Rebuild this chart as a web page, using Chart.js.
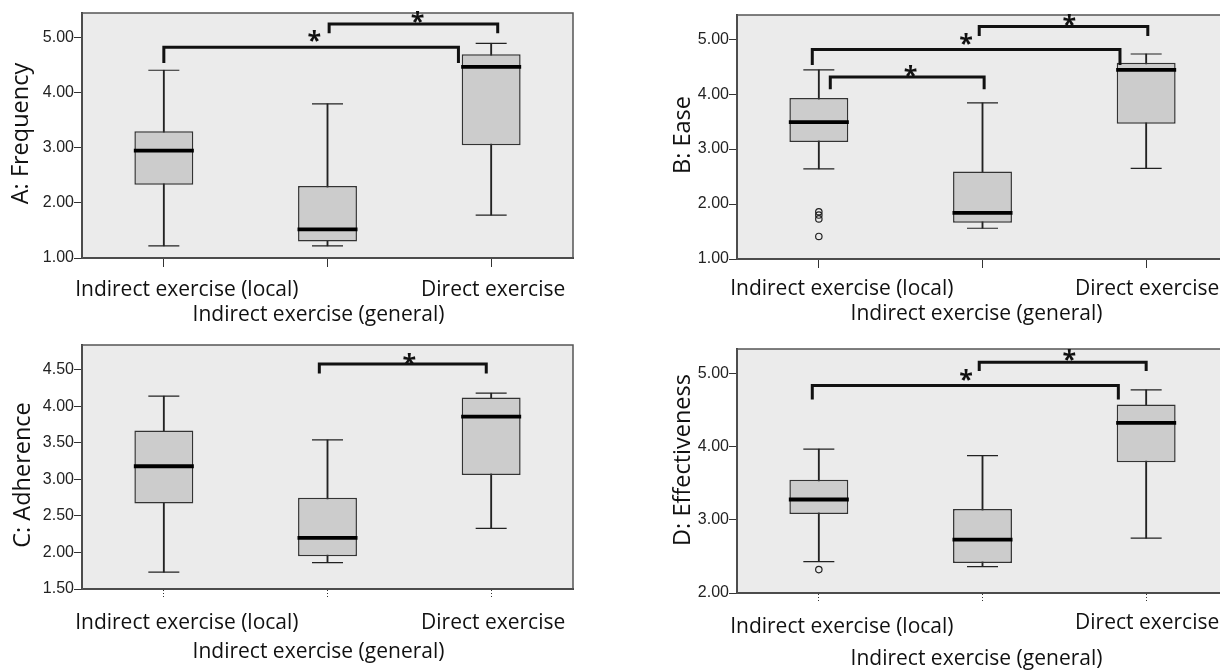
<!DOCTYPE html>
<html>
<head>
<meta charset="utf-8">
<script src="https://cdn.jsdelivr.net/npm/chart.js@4.4.0/dist/chart.umd.min.js"></script>
<style>
  html, body { margin: 0; padding: 0; background: #fff; width: 1220px; height: 670px; overflow: hidden; }
  .panel { position: absolute; }
</style>
</head>
<body>
<div class="panel" style="left:0;top:0"><canvas id="cA" width="610" height="330"></canvas></div>
<div class="panel" style="left:610px;top:0"><canvas id="cB" width="630" height="330"></canvas></div>
<div class="panel" style="left:0;top:330px"><canvas id="cC" width="610" height="340"></canvas></div>
<div class="panel" style="left:610px;top:330px"><canvas id="cD" width="630" height="340"></canvas></div>
<script>
// Categories shared by all four panels
const categories = ['Indirect exercise (local)', 'Indirect exercise (general)', 'Direct exercise'];

// A: Frequency
const freqMin = [1.22, 1.22, 1.78];
const freqQ1 = [2.33, 1.30, 3.05];
const freqMedian = [2.95, 1.52, 4.47];
const freqQ3 = [3.30, 2.31, 4.70];
const freqMax = [4.41, 3.80, 4.90];
const freqOutCat = [];
const freqOutVal = [];
const freqTicks = [1, 2, 3, 4, 5];
// significance brackets (category units / value units)
const freqBrFrom = [0, 1.01];
const freqBrTo = [1.80, 2.04];
const freqBrAt = [4.83, 5.25];
const freqBrEnd = [4.54, 5.08];
const freqStar = [0.92, 1.55];

// B: Ease
const easeMin = [2.64, 1.56, 2.65];
const easeQ1 = [3.13, 1.66, 3.46];
const easeMedian = [3.49, 1.84, 4.44];
const easeQ3 = [3.93, 2.59, 4.57];
const easeMax = [4.44, 3.84, 4.73];
const easeOutCat = [0, 0, 0, 0];
const easeOutVal = [1.86, 1.80, 1.73, 1.41];
const easeTicks = [1, 2, 3, 4, 5];
const easeBrFrom = [-0.04, 0.98, 0.07];
const easeBrTo = [1.84, 2.01, 1.01];
const easeBrAt = [4.81, 5.23, 4.31];
const easeBrEnd = [4.53, 5.06, 4.09];
const easeStar = [0.90, 1.53, 0.56];

// C: Adherence
const adhMin = [1.73, 1.86, 2.33];
const adhQ1 = [2.67, 1.95, 3.06];
const adhMedian = [3.18, 2.20, 3.86];
const adhQ3 = [3.67, 2.75, 4.12];
const adhMax = [4.14, 3.54, 4.18];
const adhOutCat = [];
const adhOutVal = [];
const adhTicks = [1.5, 2, 2.5, 3, 3.5, 4, 4.5];
const adhBrFrom = [0.95];
const adhBrTo = [1.97];
const adhBrAt = [4.58];
const adhBrEnd = [4.45];
const adhStar = [1.50];

// D: Effectiveness
const effMin = [2.43, 2.36, 2.75];
const effQ1 = [3.08, 2.41, 3.79];
const effMedian = [3.28, 2.73, 4.33];
const effQ3 = [3.55, 3.15, 4.58];
const effMax = [3.97, 3.88, 4.78];
const effOutCat = [0];
const effOutVal = [2.32];
const effTicks = [2, 3, 4, 5];
const effBrFrom = [-0.04, 0.98];
const effBrTo = [1.83, 2.00];
const effBrAt = [4.84, 5.16];
const effBrEnd = [4.65, 5.04];
const effStar = [0.90, 1.53];

// Layout / style per panel
const panels = [
  {
    id: 'cA', title: 'A: Frequency', yMin: 1, yMax: 5.45, ticks: freqTicks,
    min: freqMin, q1: freqQ1, median: freqMedian, q3: freqQ3, max: freqMax,
    outCat: freqOutCat, outVal: freqOutVal,
    brFrom: freqBrFrom, brTo: freqBrTo, brAt: freqBrAt, brEnd: freqBrEnd, star: freqStar,
    starLift: [11, 7],
    padTop: 13, padRight: 37, yWidth: 82, xHeight: 72,
    titleX: 21, titleDy: -2, tickDash: [],
    labelPos: [[23, 32], [-9, 57], [2, 32]]
  },
  {
    id: 'cB', title: 'B: Ease', yMin: 1, yMax: 5.44, ticks: easeTicks,
    min: easeMin, q1: easeQ1, median: easeMedian, q3: easeQ3, max: easeMax,
    outCat: easeOutCat, outVal: easeOutVal,
    brFrom: easeBrFrom, brTo: easeBrTo, brAt: easeBrAt, brEnd: easeBrEnd, star: easeStar,
    starLift: [11, 7, 6],
    padTop: 15, padRight: 12, yWidth: 127, xHeight: 71,
    titleX: 73, titleDy: -2, tickDash: [],
    labelPos: [[23, 30], [-6, 55], [1, 30]]
  },
  {
    id: 'cC', title: 'C: Adherence', yMin: 1.5, yMax: 4.84, ticks: adhTicks,
    min: adhMin, q1: adhQ1, median: adhMedian, q3: adhQ3, max: adhMax,
    outCat: adhOutCat, outVal: adhOutVal,
    brFrom: adhBrFrom, brTo: adhBrTo, brAt: adhBrAt, brEnd: adhBrEnd, star: adhStar,
    starLift: [5],
    padTop: 15, padRight: 37, yWidth: 82, xHeight: 81,
    titleX: 23, titleDy: 8, tickDash: [1, 2],
    labelPos: [[23, 34], [-9, 63], [2, 34]]
  },
  {
    id: 'cD', title: 'D: Effectiveness', yMin: 2, yMax: 5.34, ticks: effTicks,
    min: effMin, q1: effQ1, median: effMedian, q3: effQ3, max: effMax,
    outCat: effOutCat, outVal: effOutVal,
    brFrom: effBrFrom, brTo: effBrTo, brAt: effBrAt, brEnd: effBrEnd, star: effStar,
    starLift: [11, 7],
    padTop: 19, padRight: 12, yWidth: 127, xHeight: 77,
    titleX: 73, titleDy: -11, tickDash: [1, 2],
    labelPos: [[23, 34], [-6, 66], [1, 30]]
  }
];

const TEXT_FONT = '"Open Sans", "Noto Sans", sans-serif';
const TICK_FONT = '"Liberation Sans Narrow", "Arial Narrow", "Liberation Sans", sans-serif';

/**
 * Plugin drawing plot background, frame, brackets, category labels and the axis title
 */
function makeDecorPlugin(p) {
  return {
    id: 'decor_' + p.id,
    beforeDraw(chart) {
      const { ctx, chartArea: a } = chart;
      ctx.save();
      ctx.fillStyle = '#ebebeb';
      ctx.fillRect(a.left, a.top, a.right - a.left, a.bottom - a.top);
      ctx.restore();
    },
    afterDraw(chart) {
      const { ctx, chartArea: a } = chart;
      const xs = chart.scales.x;
      const ys = chart.scales.y;

      // frame
      ctx.save();
      ctx.strokeStyle = '#555';
      ctx.lineWidth = 1.5;
      ctx.strokeRect(a.left, a.top, a.right - a.left, a.bottom - a.top);

      // significance brackets
      ctx.strokeStyle = '#111';
      ctx.lineWidth = 3;
      ctx.lineJoin = 'miter';
      ctx.fillStyle = '#111';
      ctx.font = 'bold 25px ' + TEXT_FONT;
      ctx.textAlign = 'center';
      ctx.textBaseline = 'middle';
      p.brFrom.forEach((from, i) => {
        const x1 = xs.getPixelForValue(from);
        const x2 = xs.getPixelForValue(p.brTo[i]);
        const yLine = ys.getPixelForValue(p.brAt[i]);
        const yEnd = ys.getPixelForValue(p.brEnd[i]);
        ctx.beginPath();
        ctx.moveTo(x1, yEnd);
        ctx.lineTo(x1, yLine);
        ctx.lineTo(x2, yLine);
        ctx.lineTo(x2, yEnd);
        ctx.stroke();
        ctx.fillText('*', xs.getPixelForValue(p.star[i]), yLine - p.starLift[i] + 6);
      });

      // category labels (staggered as in the original)
      ctx.font = '21px ' + TEXT_FONT;
      ctx.fillStyle = '#111';
      categories.forEach((label, i) => {
        const [dx, dy] = p.labelPos[i];
        ctx.fillText(label, xs.getPixelForValue(i) + dx, a.bottom + dy);
      });

      // y axis title
      ctx.font = '23.5px ' + TEXT_FONT;
      ctx.translate(p.titleX, (a.top + a.bottom) / 2 + p.titleDy);
      ctx.rotate(-Math.PI / 2);
      ctx.fillText(p.title, 0, 0);
      ctx.restore();
    }
  };
}

function buildChart(p) {
  const canvas = document.getElementById(p.id);
  const pts = (vals) => vals.map((v, i) => ({ x: categories[i], y: v }));

  new Chart(canvas, {
    type: 'bar',
    data: {
      labels: categories,
      datasets: [
        {
          // median line
          type: 'line',
          data: pts(p.median),
          showLine: false,
          pointStyle: 'line',
          pointRadius: 30,
          pointBorderWidth: 3.8,
          pointBorderColor: '#000',
          order: 0
        },
        {
          // outliers
          type: 'line',
          data: p.outVal.map((v, i) => ({ x: categories[p.outCat[i]], y: v })),
          showLine: false,
          pointStyle: 'circle',
          pointRadius: 3.2,
          pointBorderWidth: 1.2,
          pointBorderColor: '#222',
          pointBackgroundColor: 'rgba(0,0,0,0)',
          order: 0
        },
        {
          // box (Q1 - Q3)
          type: 'bar',
          data: p.q1.map((v, i) => [v, p.q3[i]]),
          backgroundColor: '#cccccc',
          borderColor: '#333',
          borderWidth: 1.5,
          borderSkipped: false,
          grouped: false,
          categoryPercentage: 1,
          barPercentage: 0.36,
          order: 1
        },
        {
          // whisker caps
          type: 'line',
          data: pts(p.min).concat(pts(p.max)),
          showLine: false,
          pointStyle: 'line',
          pointRadius: 15.5,
          pointBorderWidth: 1.2,
          pointBorderColor: '#222',
          order: 2
        },
        {
          // whisker stem
          type: 'bar',
          data: p.min.map((v, i) => [v, p.max[i]]),
          backgroundColor: '#222',
          borderWidth: 0,
          grouped: false,
          barThickness: 1.2,
          order: 3
        }
      ]
    },
    options: {
      responsive: false,
      animation: false,
      events: [],
      layout: {
        autoPadding: false,
        padding: { top: p.padTop, right: p.padRight, left: 0, bottom: 0 }
      },
      plugins: {
        legend: { display: false },
        tooltip: { enabled: false },
        title: { display: false }
      },
      scales: {
        x: {
          type: 'category',
          offset: true,
          grid: {
            offset: false,
            drawOnChartArea: false,
            drawTicks: true,
            tickLength: 9,
            color: '#333',
            tickBorderDash: p.tickDash
          },
          border: { color: '#333', width: 2 },
          ticks: { display: false },
          afterFit: (s) => { s.height = p.xHeight; }
        },
        y: {
          type: 'linear',
          min: p.yMin,
          max: p.yMax,
          afterBuildTicks: (s) => { s.ticks = p.ticks.map(v => ({ value: v })); },
          grid: {
            drawOnChartArea: false,
            drawTicks: true,
            tickLength: 8,
            color: '#333'
          },
          border: { color: '#333', width: 2 },
          ticks: {
            padding: 0,
            color: '#222',
            font: { family: TICK_FONT, size: 16 },
            callback: (v) => Number(v).toFixed(2)
          },
          afterFit: (s) => { s.width = p.yWidth; }
        }
      }
    },
    plugins: [makeDecorPlugin(p)]
  });
}

panels.forEach(buildChart);
</script>
</body>
</html>
